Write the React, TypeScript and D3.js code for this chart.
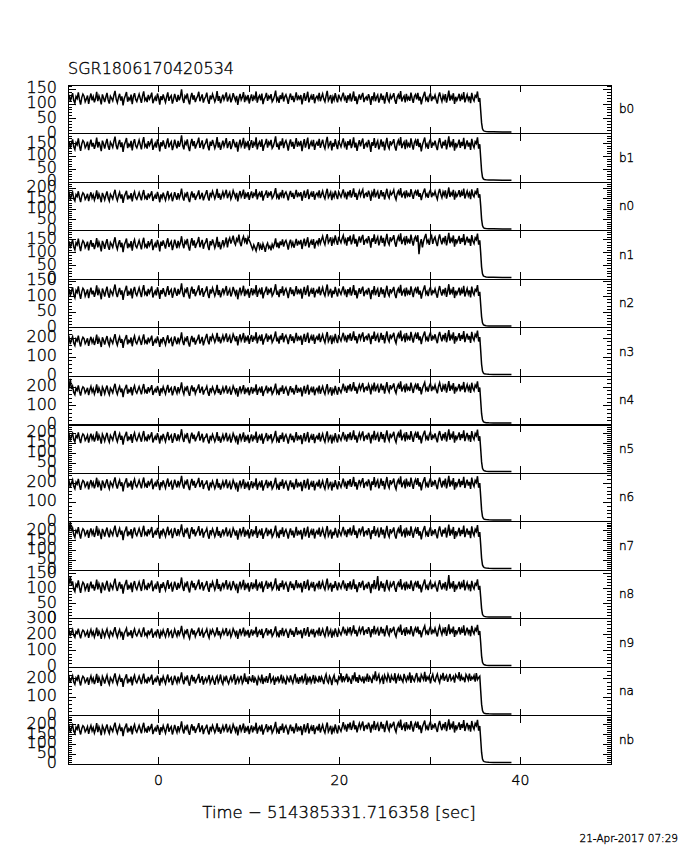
import React from 'react';
import * as d3 from 'd3';

const TITLE = 'SGR1806170420534';
const X_TITLE = 'Time \u2212 514385331.716358 [sec]';
const DATE_TEXT = '21-Apr-2017 07:29';
const DETECTORS = ['b0', 'b1', 'n0', 'n1', 'n2', 'n3', 'n4', 'n5', 'n6', 'n7', 'n8', 'n9', 'na', 'nb'];
const Y_MAX = [165, 190, 230, 186, 158, 256, 260, 245, 255, 248, 162, 300, 265, 248];
const Y_STEP = [50, 50, 50, 50, 50, 100, 100, 50, 100, 50, 50, 100, 100, 50];
const X_DOMAIN = [-10, 50];
const X_TICKS = [0, 10, 20, 30, 40];
const X_TICK_LABELS = [0, 20, 40];
const T_START = -10;
const T_END = 35.5;
const TAIL_T = [35.6, 35.7, 35.8, 35.9, 36.0, 36.2, 36.5, 37.0, 38.0, 39.0];

const B0 = [118,131,109,124,137,112,103,126,119,140,115,98,122,134,127,108,117,129,101,121,
136,113,125,106,119,142,110,128,116,99,133,121,107,124,138,114,102,127,120,111,
130,145,117,105,123,135,112,126,96,118,129,141,108,121,114,132,100,125,137,116,
109,122,134,119,104,128,143,113,120,107,131,117,126,139,103,115,124,110,136,121,
98,127,114,133,118,106,125,140,111,123,129,102,116,135,120,108,131,113,126,150,
117,104,128,121,136,112,99,124,138,115,130,107,119,127,142,110,122,133,105,118,
125,139,113,101,129,116,134,122,108,120,144,111,127,103,118,132,115,126,140,109,
121,130,106,117,137,124,112,128,97,119,135,114,123,141,107,125,116,131,102,120,
133,110,126,118,143,105,122,129,113,136,100,117,124,138,111,127,120,134,108,115,
128,146,112,121,104,130,117,139,109,125,132,119,101,123,136,114,128,107,122,140,
113,126,118,131,99,120,137,111,124,142,106,119,129,115,134,103,121,127,116,138,
110,123,135,117,108,128,145,112,120,131,102,125,114,137,119,106,132,121,113,127,
139,116,124,104,130,118,136,109,122,143,111,126,100,119,133,115,128,138,107,120,
125,112,134,121,97,127,117,140,110,123,131,105,118,136,114,129,102,122,141,116,
108,130,119,126,137,113,101,124,132,117,144,109,121,128,106,135,115,123,111,139,
120,104,127,133,116,138,112,125,99,118,130,142,114,122,107,128,136,110,124,119,
131,115,102,126,140,121,109,129,117,134,105,123,146,112,127,118,137,101,125,113,
122,135,110,128,116,141,106,120,132,114,126,103,138,119,111,129,124,143,108,121];
const B1 = [145,160,132,151,167,138,127,154,146,171,141,122,149,163,156,134,143,158,125,148,
166,139,153,130,146,174,135,157,142,121,162,149,131,152,169,140,126,156,147,136,
159,178,143,128,150,165,137,155,118,145,158,172,133,148,140,161,124,153,168,142,
134,149,164,146,128,157,176,138,147,131,160,143,154,170,126,141,152,135,167,148,
120,156,140,163,145,130,153,171,136,150,158,125,142,166,147,132,161,138,154,183,
143,128,157,148,167,137,121,151,169,141,160,131,146,156,174,134,149,163,129,145,
153,170,139,124,158,142,165,149,132,147,176,135,155,126,144,162,140,154,172,133,
148,160,129,143,168,152,136,157,119,146,166,139,150,173,131,153,142,161,125,147,
164,134,154,145,175,128,149,158,138,167,122,143,151,169,135,156,147,165,132,140,
157,179,137,148,127,159,143,171,133,153,162,146,123,150,167,139,157,130,149,172,
138,154,145,161,121,147,168,135,152,174,129,146,158,140,165,126,148,156,142,169,
134,150,166,143,131,157,177,137,147,161,124,153,139,168,145,129,162,149,138,156,
171,141,152,127,160,144,167,133,149,175,135,154,122,146,164,140,157,170,130,147,
153,136,165,148,118,156,142,172,134,150,161,128,144,167,139,158,124,149,173,141,
131,160,146,154,168,138,123,151,163,143,176,133,148,157,129,166,140,150,135,171,
147,127,155,164,142,169,137,153,120,145,160,174,139,149,130,157,167,134,152,146,
162,140,125,154,172,148,132,158,143,165,128,150,179,136,155,144,168,123,153,138,
149,166,134,157,141,173,129,147,163,139,154,126,169,146,135,158,151,175,131,148];
const N0 = [160,176,146,167,182,151,140,170,161,186,156,135,164,179,172,148,158,174,139,163,
181,154,169,144,161,190,149,173,157,134,178,164,145,167,185,155,140,172,162,150,
175,193,158,142,166,181,152,171,131,160,174,188,147,163,155,177,138,169,184,157,
148,164,180,161,143,172,192,153,162,145,176,158,170,186,140,156,168,150,183,163,
134,171,155,179,160,144,168,187,151,165,174,139,157,182,162,146,177,153,170,199,
158,142,173,163,183,152,135,166,185,156,176,145,161,171,190,149,164,179,143,160,
174,191,158,142,179,163,186,170,151,168,197,155,176,146,165,183,160,175,193,153,
169,181,149,164,189,173,156,178,138,167,187,159,171,194,150,174,162,182,145,168,
185,154,175,166,196,148,170,179,158,188,142,164,172,190,155,177,168,186,152,161,
178,201,157,169,147,180,164,192,153,174,183,167,143,171,188,159,178,150,170,193,
158,175,166,182,141,168,189,155,173,195,149,167,179,160,186,146,169,177,163,190,
154,171,187,164,151,178,198,157,168,182,144,174,159,189,166,149,183,170,158,177,
195,163,175,148,184,168,191,156,173,200,159,178,145,170,188,164,181,194,153,172,
177,159,189,172,141,180,166,197,157,174,185,151,168,191,162,182,147,173,198,165,
154,184,170,178,193,161,146,175,187,167,201,157,172,181,152,190,164,174,159,196,
171,150,179,188,166,194,160,177,144,169,184,199,163,173,155,181,192,158,176,168,
186,164,148,178,197,172,156,183,167,190,151,174,204,159,179,168,193,146,177,162,
173,191,158,182,165,199,152,171,187,163,178,149,195,169,160,184,175,201,156,172];
const N1 = [130,144,118,136,150,123,112,139,131,155,127,107,134,147,140,120,129,143,110,133,
149,124,138,115,131,157,121,141,127,106,146,134,116,137,153,125,112,140,132,122,
143,160,128,114,135,149,122,139,103,130,142,155,118,133,125,145,109,138,151,127,
120,134,148,131,114,141,158,124,132,117,145,128,138,153,111,126,137,121,150,133,
106,143,127,148,132,117,140,156,123,136,144,111,129,151,134,118,146,125,139,164,
133,118,145,136,154,124,109,138,157,128,148,119,134,143,161,122,137,150,116,134,
141,156,125,111,145,129,152,137,119,134,162,122,142,114,131,149,127,140,159,121,
147,158,136,150,166,141,131,154,145,170,139,126,151,163,143,157,133,160,148,138,
125,114,131,120,108,127,141,117,130,112,135,122,104,128,138,119,126,110,133,121,
135,156,122,139,118,144,130,152,124,141,148,133,113,137,151,127,140,120,136,154,
128,143,136,150,115,138,155,126,142,160,121,137,147,131,153,117,139,145,133,157,
136,150,164,144,132,157,172,139,148,160,127,153,141,167,146,131,162,149,139,155,
167,141,152,128,160,145,166,133,149,171,136,154,124,146,163,140,157,169,131,147,
152,137,164,148,120,156,143,171,135,150,161,129,145,166,139,158,125,149,173,142,
132,160,147,154,168,139,124,151,163,144,175,134,148,157,130,165,141,150,136,170,
146,128,155,163,143,168,95,137,153,121,145,160,173,140,149,131,157,166,135,152,
161,141,126,154,171,148,133,158,144,165,129,150,177,137,155,145,167,124,153,139,
149,165,135,157,142,172,130,147,162,140,154,127,168,146,136,158,151,174,132,148];
const N2 = [113,125,103,118,131,107,97,121,114,134,110,93,116,128,122,102,112,124,96,115,
130,108,120,100,114,137,105,123,111,92,127,116,101,119,133,109,97,122,115,106,
125,140,112,99,117,129,107,121,90,113,124,136,103,116,109,127,95,120,132,111,
104,117,129,114,99,123,138,108,115,102,126,112,121,134,98,110,119,105,131,116,
93,122,109,128,113,101,120,135,106,118,124,97,111,130,115,103,126,108,121,144,
112,99,123,116,131,107,94,119,133,110,125,102,114,122,137,105,117,128,100,113,
120,134,108,96,124,111,129,117,103,115,139,106,122,98,113,127,110,121,135,104,
116,125,101,112,132,119,107,123,92,114,130,109,118,136,102,120,111,126,97,115,
128,105,121,113,138,100,117,124,108,131,95,112,119,133,106,122,115,129,103,110,
123,141,107,116,99,125,112,134,104,120,127,114,96,118,131,109,123,102,117,135,
108,121,113,126,94,115,132,106,119,137,101,114,124,110,129,98,116,122,111,133,
105,118,130,112,103,123,140,107,115,126,97,120,109,132,114,101,127,116,108,122,
134,111,119,99,125,113,131,104,117,138,106,121,95,114,128,110,123,133,102,115,
120,107,129,116,92,122,112,135,105,118,126,100,113,131,109,124,97,117,136,111,
103,125,114,121,132,108,96,119,127,112,139,104,116,123,101,130,110,118,106,134,
115,99,122,128,111,133,107,120,94,113,125,137,109,117,102,123,131,105,119,114,
126,110,97,121,135,116,104,124,112,129,100,118,141,107,122,113,132,96,120,108,
117,130,105,123,111,136,101,115,127,109,121,98,133,114,106,124,119,138,103,116];
const N3 = [184,201,168,192,208,174,161,196,185,213,179,156,189,205,197,171,182,199,159,187,
207,177,194,164,185,218,170,198,180,153,204,189,166,192,211,178,161,197,186,172,
200,221,182,163,190,207,175,195,148,184,199,216,167,187,178,203,157,193,211,180,
170,188,206,185,164,197,220,175,186,167,202,181,194,213,159,179,192,173,209,187,
154,196,178,205,184,165,193,215,173,190,199,157,180,209,186,168,203,176,195,230,
182,163,198,187,210,174,155,191,212,179,202,166,185,196,218,171,188,206,162,184,
203,222,185,167,209,191,217,199,178,196,228,182,206,172,193,214,188,204,225,180,
198,212,174,193,221,205,183,210,162,196,219,186,201,227,176,204,190,214,170,197,
216,180,205,195,231,172,200,210,185,220,166,192,202,224,181,207,197,218,177,190,
209,235,183,198,171,212,192,226,178,204,215,196,168,201,220,186,209,174,199,228,
184,205,194,213,164,197,222,180,203,229,174,196,211,187,218,170,198,208,189,224,
179,200,219,192,176,209,232,183,197,214,168,203,186,222,193,174,216,199,185,208,
228,193,206,177,217,199,225,186,203,236,189,210,172,201,222,194,213,230,180,204,
209,188,224,205,168,213,196,234,185,207,219,178,198,228,191,216,172,205,236,195,
181,219,200,210,228,190,173,208,222,198,240,184,203,215,178,227,194,206,187,233,
202,176,211,223,196,230,188,209,168,200,218,235,191,204,182,214,229,186,209,198,
220,193,173,212,233,204,183,217,198,227,178,206,242,187,213,199,230,171,210,190,
205,226,185,216,195,237,179,203,223,192,211,175,233,201,188,219,208,240,182,205];
const N4 = [182,198,245,190,205,172,160,194,183,210,177,155,187,202,195,169,180,197,158,185,
204,175,192,163,183,215,168,196,178,152,201,187,165,190,209,176,160,195,184,170,
198,218,180,162,188,204,173,193,147,182,197,213,165,185,176,201,156,191,208,178,
168,186,203,183,162,195,217,173,184,165,200,179,192,211,158,177,190,171,206,185,
153,194,176,202,182,164,191,212,171,188,197,156,178,206,184,167,200,174,193,226,
180,162,196,185,207,172,154,189,209,177,199,165,183,194,215,169,186,203,160,182,
188,205,171,154,194,177,201,184,165,182,212,169,191,159,179,199,174,189,209,166,
183,196,160,179,206,190,170,195,149,181,204,172,187,211,163,189,176,199,157,182,
201,166,190,181,215,159,185,195,171,205,153,178,188,208,167,192,182,202,163,175,
194,219,169,183,158,197,177,210,164,189,200,181,155,186,205,172,194,161,184,212,
170,190,180,198,151,183,207,166,188,213,160,182,196,173,203,157,184,193,175,209,
165,186,204,178,163,194,216,169,182,199,155,188,172,207,179,160,201,184,171,193,
219,186,198,170,209,191,217,178,196,227,181,202,166,194,213,187,205,222,173,196,
201,181,215,197,162,205,189,225,178,199,211,171,191,219,184,208,166,197,227,188,
174,211,193,202,220,183,167,200,214,191,231,177,196,207,172,219,187,198,180,224,
195,169,203,215,189,221,181,201,162,193,210,226,184,197,176,206,220,179,201,191,
212,186,167,204,224,196,176,209,191,218,171,199,233,180,205,192,222,165,202,183,
197,217,178,208,188,228,173,195,214,185,203,169,224,194,181,211,200,231,175,198];
const N5 = [178,193,164,185,200,169,157,189,179,205,173,151,182,197,190,165,176,191,154,180,
199,171,187,159,178,210,164,191,174,148,196,182,161,185,203,171,156,190,179,166,
193,213,175,158,183,199,168,188,143,177,192,208,161,180,171,196,152,186,203,173,
163,181,198,178,158,190,212,168,179,160,195,174,187,206,154,172,185,166,201,180,
149,189,171,197,177,159,186,207,166,183,192,152,173,201,179,162,195,169,188,221,
176,157,191,180,202,167,150,184,204,172,194,160,178,189,210,164,181,198,155,177,
182,199,165,149,188,171,195,178,159,176,206,163,185,153,173,193,168,183,203,160,
177,190,154,173,200,184,164,189,144,175,198,166,181,205,157,183,170,193,151,176,
195,160,184,175,209,153,179,189,165,199,148,172,182,202,161,186,176,196,157,169,
188,213,163,177,152,191,171,204,158,183,194,175,149,180,199,166,188,155,178,206,
164,184,174,192,146,177,201,160,182,207,154,176,190,167,197,151,178,187,169,203,
159,180,198,172,157,188,210,163,176,193,149,182,166,201,173,154,195,178,165,187,
207,174,186,158,197,179,205,166,184,215,169,190,154,182,201,175,193,210,161,184,
189,169,203,185,150,193,177,213,166,187,199,159,179,207,172,196,154,185,215,176,
162,199,181,190,208,171,155,188,202,179,219,165,184,195,160,207,175,186,168,212,
183,157,191,203,177,209,169,189,150,181,198,214,172,185,164,194,208,167,189,179,
200,174,155,192,212,184,164,197,179,206,159,187,221,168,193,180,210,153,190,171,
185,205,166,196,176,216,161,183,202,173,191,157,212,182,169,199,188,219,163,186];
const N6 = [195,211,180,203,219,185,172,207,196,224,190,166,200,216,208,182,193,210,169,198,
218,188,205,174,196,230,180,209,191,163,215,200,176,203,222,189,172,208,197,183,
211,232,193,173,201,218,186,206,158,195,210,227,178,198,189,214,167,204,222,191,
181,199,217,196,174,208,231,186,197,177,213,192,205,225,170,190,203,184,220,198,
165,207,189,216,195,176,204,226,183,201,210,168,191,220,197,179,214,187,206,240,
193,173,209,198,221,184,165,202,224,189,213,177,196,207,229,181,199,217,171,195,
198,216,181,163,205,187,212,195,174,192,224,178,201,168,189,210,184,199,221,175,
193,207,169,188,217,200,179,205,157,190,215,182,197,222,172,199,185,210,165,192,
212,175,200,190,227,167,194,205,180,216,162,187,198,219,176,202,191,213,172,184,
204,230,178,192,166,208,187,221,173,198,210,190,163,195,216,181,204,169,193,224,
179,199,189,208,160,192,218,175,197,225,168,191,206,182,214,164,193,203,184,220,
174,195,214,187,171,204,228,178,192,209,163,198,181,218,189,169,211,194,180,203,
226,190,203,172,214,196,223,182,200,234,185,207,168,198,219,191,210,228,176,201,
207,185,221,202,164,211,193,233,181,204,217,174,195,226,188,213,169,202,234,192,
177,217,198,207,226,186,169,205,219,195,238,180,200,212,174,225,191,203,183,231,
199,172,208,221,193,228,184,206,164,197,216,233,187,201,178,211,227,182,206,195,
218,190,170,209,231,201,179,214,195,225,174,203,240,183,210,196,228,167,207,186,
202,224,181,213,192,235,176,200,220,189,208,171,231,198,184,216,205,238,178,202];
const N7 = [190,206,245,198,214,180,167,202,191,219,185,161,195,211,203,177,188,205,164,193,
213,183,200,169,191,225,175,204,186,158,210,195,171,198,217,184,167,203,192,178,
206,227,188,168,196,213,181,201,153,190,205,222,173,193,184,209,162,199,217,186,
176,194,212,191,169,203,226,181,192,172,208,187,200,220,165,185,198,179,215,193,
160,202,184,211,190,171,199,221,178,196,205,163,186,215,192,174,209,182,201,233,
188,168,204,193,216,179,160,197,219,184,208,172,191,202,224,176,194,212,166,190,
197,213,178,160,203,185,210,193,171,189,221,175,199,165,186,207,181,196,218,172,
191,204,166,186,214,198,176,203,155,188,212,179,195,220,170,197,183,207,162,189,
209,172,197,187,224,164,191,202,177,213,159,184,195,216,173,199,188,210,169,181,
200,227,175,189,163,205,184,218,170,195,207,187,160,192,213,178,201,166,190,221,
176,196,186,205,157,189,215,172,194,222,165,188,203,179,211,161,190,200,181,217,
171,192,211,184,168,201,225,175,189,206,160,195,178,215,186,166,208,191,177,200,
220,185,197,168,208,190,217,177,194,228,180,201,163,192,213,186,204,222,171,195,
199,178,214,195,158,203,186,225,174,197,209,167,188,218,181,206,162,195,226,184,
169,209,190,199,218,178,161,197,211,187,230,172,192,204,166,217,183,195,175,223,
191,165,200,213,185,219,176,198,156,189,208,225,179,193,170,203,219,174,198,187,
209,182,162,201,223,193,171,206,187,217,166,195,232,175,202,188,220,159,199,178,
194,216,173,205,184,227,168,192,212,181,200,163,223,190,176,208,197,230,170,194];
const N8 = [106,118,140,111,124,98,90,114,107,127,103,86,109,121,115,95,105,117,89,108,
123,101,113,93,107,130,97,116,104,85,120,109,94,112,126,102,90,115,108,99,
118,133,105,92,110,122,100,114,83,106,117,129,96,109,102,120,88,113,125,104,
97,110,122,107,92,116,131,101,108,95,119,105,114,127,91,103,112,98,124,109,
86,115,102,121,106,94,113,128,99,111,117,90,104,123,108,96,119,101,114,137,
105,92,116,109,124,100,87,112,126,103,118,95,107,115,130,98,110,121,93,106,
112,125,101,89,117,104,122,110,96,108,132,99,115,91,106,120,103,114,128,97,
109,118,94,105,125,112,100,116,85,107,123,102,111,129,95,113,104,119,90,108,
121,98,114,106,131,93,110,117,101,124,88,105,112,126,99,115,108,122,96,103,
116,134,100,109,92,118,105,127,97,113,120,107,89,111,124,102,116,95,110,128,
101,114,106,119,87,108,125,99,112,130,94,107,117,103,122,91,109,115,104,126,
98,111,123,105,96,116,133,100,108,119,90,113,102,125,107,94,120,109,101,115,
127,104,112,92,118,106,124,97,110,131,99,114,88,107,121,103,116,126,95,108,
113,100,122,109,85,115,105,128,98,111,142,93,106,124,102,117,90,110,129,104,
96,118,107,114,125,101,89,112,120,105,132,97,109,116,94,123,103,111,99,127,
108,92,115,121,104,126,100,113,87,106,118,130,102,110,95,116,124,98,112,107,
119,103,90,114,128,109,97,117,105,122,93,111,145,100,115,106,125,89,113,101,
110,123,98,116,104,129,94,108,120,102,114,91,126,107,99,117,112,131,96,109];
const N9 = [207,224,191,215,232,196,183,219,208,237,202,177,212,228,220,193,205,222,180,210,
231,199,217,185,208,243,191,221,203,174,228,212,187,215,235,200,183,220,209,194,
224,246,205,184,213,231,197,218,168,207,223,240,189,210,201,227,178,216,235,203,
192,211,230,208,185,220,245,197,209,188,226,204,217,238,181,202,215,195,233,210,
175,219,200,229,207,187,216,240,194,213,223,179,203,233,209,190,227,198,218,254,
205,184,222,210,235,195,176,214,238,201,226,188,208,220,243,192,212,230,182,207,
216,235,199,180,225,207,232,214,193,211,245,196,221,186,208,230,202,217,241,191,
211,226,186,206,237,220,197,225,174,209,235,200,216,243,190,219,204,229,182,210,
232,194,220,210,248,185,214,225,199,236,179,206,218,240,195,222,211,234,190,203,
224,251,196,212,183,228,207,242,191,218,231,210,181,215,237,200,224,187,213,246,
198,219,209,229,178,212,240,194,217,247,187,211,226,202,235,183,213,223,204,243,
192,214,234,206,189,224,251,197,212,230,181,218,200,239,209,186,232,214,199,223,
250,213,226,194,236,217,246,203,221,257,206,229,189,219,242,212,232,251,197,223,
229,205,246,224,184,234,214,255,202,226,239,194,216,248,208,236,189,223,257,212,
196,239,218,228,249,205,187,226,241,215,262,199,221,233,193,247,211,224,202,253,
219,190,229,243,213,250,204,227,184,217,237,255,208,222,198,232,249,202,227,215,
240,212,189,230,254,222,200,235,216,247,192,224,264,203,231,217,250,186,228,206,
223,246,201,234,211,258,195,219,243,209,230,190,254,220,205,238,225,261,198,223];
const NA = [193,209,178,201,217,183,170,205,194,222,188,164,198,214,206,180,191,208,167,196,
216,186,203,172,194,228,178,207,189,161,213,198,174,201,220,187,170,206,195,181,
209,230,191,171,199,216,184,204,156,193,208,225,176,196,187,212,165,202,220,189,
179,197,215,194,172,206,229,184,195,175,211,190,203,223,168,188,201,182,218,196,
163,205,187,214,193,174,202,224,181,199,208,166,189,218,195,177,212,185,204,236,
191,171,207,196,219,182,163,200,222,187,211,175,194,205,227,179,197,215,169,193,
205,183,199,221,176,192,210,187,168,203,215,180,196,224,185,171,207,193,218,189,
174,197,212,186,201,226,169,194,208,181,199,217,176,190,230,185,202,171,214,195,
188,220,179,206,193,165,211,198,185,224,172,200,189,215,178,203,232,183,196,209,
167,202,191,214,184,197,223,175,206,188,170,212,199,181,219,194,177,205,227,186,
200,173,209,190,218,182,195,229,168,203,187,213,179,196,221,174,208,192,185,216,
183,211,195,172,207,225,189,178,214,199,166,204,220,187,193,176,210,198,231,181,
215,190,204,228,182,207,195,173,219,201,236,186,209,178,222,197,189,213,176,206,
194,229,184,211,199,177,216,203,241,188,207,223,182,198,212,172,220,205,190,226,
208,179,217,200,193,231,175,206,221,189,214,196,183,227,204,187,212,198,235,178,
219,197,187,214,232,191,205,181,223,209,195,238,185,211,199,216,176,207,225,193,
186,210,226,196,179,215,202,233,190,208,219,184,204,227,192,201,213,180,222,211,
203,237,188,217,198,206,182,224,212,194,229,189,210,200,218,185,231,196,207,215];
const NB = [177,192,163,184,199,168,156,188,178,204,172,151,181,196,189,165,175,191,154,180,
197,170,186,158,177,209,163,190,173,147,195,181,160,184,202,171,156,189,178,166,
192,211,175,157,182,198,168,187,143,177,191,207,161,180,171,195,151,185,202,173,
163,180,197,178,157,189,211,168,179,160,194,173,186,205,153,172,184,166,200,180,
149,188,171,196,176,158,185,206,165,182,191,151,173,200,178,161,194,168,187,218,
175,156,190,179,201,166,149,183,203,171,193,159,177,188,209,163,180,197,153,176,
184,201,167,151,190,173,197,180,161,178,208,165,187,155,175,195,170,185,205,162,
179,192,156,175,202,186,166,191,146,177,200,168,183,207,159,185,172,195,153,178,
197,162,186,177,211,155,181,191,167,201,150,174,184,204,163,188,178,198,159,171,
190,215,165,179,154,193,173,206,160,185,196,177,151,182,201,168,190,157,180,208,
166,186,176,194,148,179,203,162,184,209,156,178,192,169,199,153,180,189,171,205,
161,182,200,174,159,190,212,165,178,195,151,184,168,203,175,156,197,180,167,189,
214,182,194,166,205,187,212,174,191,222,177,198,162,189,208,183,200,217,169,193,
197,178,211,193,160,201,185,220,174,195,207,168,187,215,181,203,163,193,222,184,
170,207,189,198,216,179,163,196,210,186,227,174,192,203,168,214,183,195,176,220,
191,166,199,211,185,217,177,197,158,189,206,222,180,193,172,202,216,175,197,187,
208,182,164,200,220,192,173,205,187,214,168,195,228,176,201,188,218,161,198,179,
193,213,174,204,184,224,169,191,210,181,199,165,220,190,177,207,196,226,171,194];

const TAIL_B0 = [78, 36, 16, 10, 8, 7, 6, 6, 5, 5];
const TAIL_B1 = [95, 44, 19, 12, 10, 9, 8, 8, 7, 7];
const TAIL_N0 = [118, 54, 23, 14, 11, 9, 8, 8, 7, 7];
const TAIL_N1 = [100, 46, 20, 12, 10, 8, 7, 7, 6, 6];
const TAIL_N2 = [75, 35, 15, 9, 7, 6, 5, 5, 5, 5];
const TAIL_N3 = [135, 62, 26, 16, 12, 10, 9, 8, 8, 8];
const TAIL_N4 = [128, 58, 25, 15, 12, 10, 9, 8, 8, 8];
const TAIL_N5 = [122, 56, 24, 15, 11, 9, 8, 8, 7, 7];
const TAIL_N6 = [132, 61, 26, 16, 12, 10, 9, 8, 8, 8];
const TAIL_N7 = [130, 60, 26, 16, 12, 10, 9, 8, 8, 8];
const TAIL_N8 = [72, 33, 14, 9, 7, 6, 5, 5, 5, 5];
const TAIL_N9 = [150, 69, 29, 18, 14, 11, 10, 9, 9, 9];
const TAIL_NA = [136, 62, 27, 16, 12, 10, 9, 8, 8, 8];
const TAIL_NB = [128, 59, 25, 15, 12, 10, 9, 8, 8, 8];

const SERIES = [B0, B1, N0, N1, N2, N3, N4, N5, N6, N7, N8, N9, NA, NB];
const TAILS = [TAIL_B0, TAIL_B1, TAIL_N0, TAIL_N1, TAIL_N2, TAIL_N3, TAIL_N4, TAIL_N5, TAIL_N6, TAIL_N7, TAIL_N8, TAIL_N9, TAIL_NA, TAIL_NB];

const W = 680;
const H = 850;
const LEFT = 68;
const RIGHT = 611;
const TOP = 85;
const BOTTOM = 764;
const FONT = "'DejaVu Sans', 'Liberation Sans', sans-serif";
const TXT = { fontWeight: 200, fill: '#000', stroke: '#000', strokeWidth: 0.35 } as const;

export default function App() {
  const x = d3.scaleLinear().domain(X_DOMAIN).range([LEFT, RIGHT]);
  const band = d3.scaleBand().domain(DETECTORS).range([TOP, BOTTOM]).paddingInner(0).paddingOuter(0);
  const ph = band.bandwidth();
  const line = d3.line<[number, number]>().curve(d3.curveLinear);

  return (
    <svg width={W} height={H} style={{ position: 'absolute', left: 0, top: 0, background: '#fff' }} fontFamily={FONT}>
      <rect x={0} y={0} width={W} height={H} fill="#fff" />
      <text x={LEFT} y={74} fontSize={16} {...TXT}>{TITLE}</text>
      {DETECTORS.map((det, k) => {
        const y0 = band(det) as number;
        const y1 = y0 + ph;
        const y = d3.scaleLinear().domain([0, Y_MAX[k]]).range([y1, y0]);
        const vals = SERIES[k];
        const n = vals.length;
        const pts: [number, number][] = vals
          .map((v, i) => [T_START + (i * (T_END - T_START)) / (n - 1), v] as [number, number])
          .concat(TAIL_T.map((t, i) => [t, TAILS[k][i]] as [number, number]));
        line.x((d) => x(d[0])).y((d) => y(d[1]));
        const majors = d3.range(0, Y_MAX[k] + 1e-9, Y_STEP[k]);
        const minors = d3.range(0, Y_MAX[k] + 1e-9, Y_STEP[k] / 5);
        const clipId = `clip-${det}`;
        return (
          <g key={det}>
            <clipPath id={clipId}>
              <rect x={LEFT} y={y0} width={RIGHT - LEFT} height={ph} />
            </clipPath>
            <path d={line(pts) || ''} fill="none" stroke="#000" strokeWidth={1.5} clipPath={`url(#${clipId})`} />
            <g stroke="#000" strokeWidth={1} shapeRendering="crispEdges">
              {X_TICKS.map((t) => (
                <g key={t}>
                  <line x1={x(t)} x2={x(t)} y1={y1} y2={y1 - 7} />
                  <line x1={x(t)} x2={x(t)} y1={y0} y2={y0 + 7} />
                </g>
              ))}
              {minors.map((v, i) => (
                <g key={'m' + i}>
                  <line x1={LEFT} x2={LEFT + 4} y1={y(v)} y2={y(v)} />
                  <line x1={RIGHT} x2={RIGHT - 4} y1={y(v)} y2={y(v)} />
                </g>
              ))}
              {majors.map((v, i) => (
                <g key={'M' + i}>
                  <line x1={LEFT} x2={LEFT + 8} y1={y(v)} y2={y(v)} />
                  <line x1={RIGHT} x2={RIGHT - 8} y1={y(v)} y2={y(v)} />
                </g>
              ))}
              <rect x={LEFT} y={y0} width={RIGHT - LEFT} height={ph} fill="none" />
              {det === 'n4' && <line x1={LEFT} x2={RIGHT} y1={y1 + 1} y2={y1 + 1} />}
            </g>
            {majors.map((v, i) => (
              <text key={'L' + i} x={57} y={y(v) + 4} fontSize={16} textAnchor="end" {...TXT}>
                {v}
              </text>
            ))}
            <text x={619} y={(y0 + y1) / 2 + 4} fontSize={12} {...TXT}>{det}</text>
          </g>
        );
      })}
      {X_TICK_LABELS.map((t) => (
        <text key={t} x={x(t)} y={785} fontSize={14} textAnchor="middle" {...TXT}>{t}</text>
      ))}
      <text x={339} y={818} fontSize={16.5} textAnchor="middle" {...TXT}>{X_TITLE}</text>
      <text x={678} y={842} fontSize={10.5} textAnchor="end" {...TXT}>{DATE_TEXT}</text>
    </svg>
  );
}
